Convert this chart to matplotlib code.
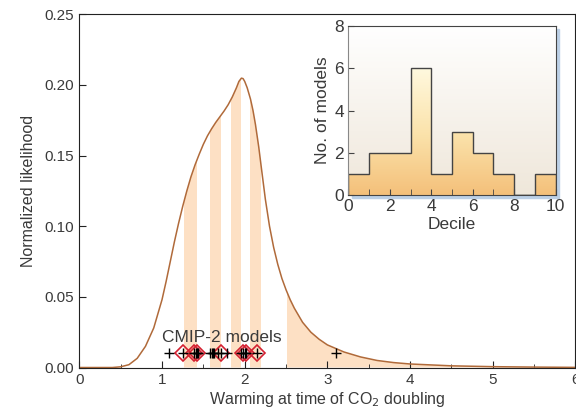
import numpy as np
import matplotlib
matplotlib.use("Agg")
import matplotlib.pyplot as plt
from matplotlib.colors import LinearSegmentedColormap
from matplotlib.patches import Rectangle

plt.rcParams['font.family'] = ['Liberation Sans', 'DejaVu Sans']

# likelihood curve
warming = [0.0, 0.4, 0.5, 0.6, 0.7, 0.8, 0.9, 1.0, 1.05, 1.1, 1.15, 1.2,
           1.25, 1.3, 1.35, 1.4, 1.45, 1.5, 1.55, 1.6, 1.65, 1.7, 1.75, 1.8,
           1.85, 1.9, 1.93, 1.96, 1.98, 2.0, 2.03, 2.07, 2.1, 2.13, 2.17,
           2.2, 2.25, 2.3, 2.35, 2.4, 2.45, 2.5, 2.55, 2.6, 2.7, 2.8, 2.9,
           3.0, 3.2, 3.4, 3.6, 3.8, 4.0, 4.5, 5.0, 5.5, 6.0]
likelihood = [0.0, 0.0, 0.0005, 0.002, 0.0065, 0.015, 0.028, 0.048, 0.061,
              0.075, 0.089, 0.102, 0.114, 0.125, 0.135, 0.1435, 0.151, 0.158,
              0.164, 0.169, 0.1735, 0.1775, 0.1815, 0.186, 0.1915, 0.198,
              0.2025, 0.2048, 0.2045, 0.2025, 0.198, 0.190, 0.182, 0.172,
              0.156, 0.142, 0.119, 0.100, 0.085, 0.073, 0.063, 0.055, 0.048,
              0.042, 0.032, 0.025, 0.020, 0.016, 0.011, 0.0075, 0.005, 0.0035,
              0.0025, 0.0012, 0.0006, 0.0003, 0.0001]

# shaded decile bands
band_lo = [1.26, 1.576, 1.835, 2.064, 2.517]
band_hi = [1.42, 1.713, 1.955, 2.193, 6.0]

# CMIP-2 models
models = [1.09, 1.25, 1.39, 1.41, 1.42, 1.43, 1.58, 1.60, 1.62, 1.63, 1.68,
          1.71, 1.79, 1.96, 1.98, 2.0, 2.02, 2.15, 3.10]
flagged = [1.25, 1.39, 1.42, 1.71, 1.98, 2.01, 2.15]

# inset histogram
decile_edges = list(range(11))
decile_counts = [1, 2, 2, 6, 1, 3, 2, 1, 0, 1]

text_col = '#3a3a3a'
peach = '#fde0c4'
brown = '#b06a3a'

fig = plt.figure(figsize=(5.76, 4.11), dpi=100)
ax = fig.add_axes([0.1377, 0.1058, 0.8614, 0.8594])

poly = ax.fill_between(warming, likelihood, 0, color='none', lw=0)
clip = poly.get_paths()[0]
for a, b in zip(band_lo, band_hi):
    span = ax.axvspan(a, b, color=peach, lw=0, zorder=1)
    span.set_clip_path(clip, ax.transData)
ax.plot(warming, likelihood, color=brown, lw=1.1, zorder=2)

ax.plot(flagged, [0.010] * len(flagged), 'D', mfc='none', mec='#d42030',
        ms=8.5, mew=1.2, zorder=3)
ax.plot(models, [0.010] * len(models), '+', color='black', ms=7, mew=1.0,
        zorder=4)
ax.text(1.72, 0.0215, 'CMIP-2 models', ha='center', va='center',
        fontsize=12.5, color=text_col)

ax.set_xlim(0, 6)
ax.set_ylim(0, 0.25)
ax.set_xticks(range(7))
ax.set_xticks(np.arange(0.5, 6, 1), minor=True)
ax.set_yticks([0, 0.05, 0.10, 0.15, 0.20, 0.25])
ax.set_yticklabels(['0.00', '0.05', '0.10', '0.15', '0.20', '0.25'])
ax.tick_params(direction='in', length=5, labelsize=11, colors='#222',
               labelcolor=text_col, pad=4)
ax.tick_params(which='minor', direction='in', length=3, colors='#222')
ax.tick_params(axis='y', right=False)
for s in ax.spines.values():
    s.set_color('#222')
ax.set_xlabel('Warming at time of CO$_2$ doubling', fontsize=11.5,
              color=text_col, labelpad=2)
ax.set_ylabel('Normalized likelihood', fontsize=11.5, color=text_col,
              labelpad=6)

# inset
ins_box = [0.6047, 0.5255, 0.3601, 0.4112]
shadow = Rectangle((ins_box[0] + 0.006, ins_box[1] - 0.008), ins_box[2],
                   ins_box[3], transform=fig.transFigure, color='#bcd0e6',
                   zorder=1)
fig.patches.append(shadow)
ins = fig.add_axes(ins_box)
ins.set_zorder(2)

bg = LinearSegmentedColormap.from_list('bg', ['#efe7da', '#ffffff'])
grad = np.linspace(0, 1, 256).reshape(-1, 1)
ins.imshow(grad, cmap=bg, origin='lower', extent=[0, 10, 0, 8],
           aspect='auto', zorder=0)
barmap = LinearSegmentedColormap.from_list(
    'bars', [(0, '#f4c07a'), (0.35, '#fbe2aa'), (0.75, '#fff9df'),
             (1, '#ffffff')])
fill = ins.stairs(decile_counts, decile_edges, fill=True, color='none')
img = ins.imshow(grad, cmap=barmap, origin='lower', extent=[0, 10, 0, 8],
                 aspect='auto', zorder=1)
img.set_clip_path(fill)
ins.stairs(decile_counts, decile_edges, color='#444', lw=1.0, baseline=0,
           zorder=2)
ins.plot([8, 9], [0, 0], color='#444', lw=1.0, zorder=2)

ins.set_xlim(0, 10)
ins.set_ylim(0, 8)
ins.set_xticks(range(0, 11, 2))
ins.set_xticks(range(1, 10, 2), minor=True)
ins.set_yticks(range(0, 9, 2))
ins.tick_params(direction='in', length=4, labelsize=12.5, colors='#444',
                labelcolor=text_col, pad=3)
ins.tick_params(which='minor', direction='in', length=4, colors='#444')
for s in ins.spines.values():
    s.set_color('#444')
ins.spines['left'].set_color('#888')
ins.set_xlabel('Decile', fontsize=12.5, color=text_col, labelpad=2)
ins.set_ylabel('No. of models', fontsize=12.5, color=text_col, labelpad=3)

fig.savefig('out.png', dpi=100)
